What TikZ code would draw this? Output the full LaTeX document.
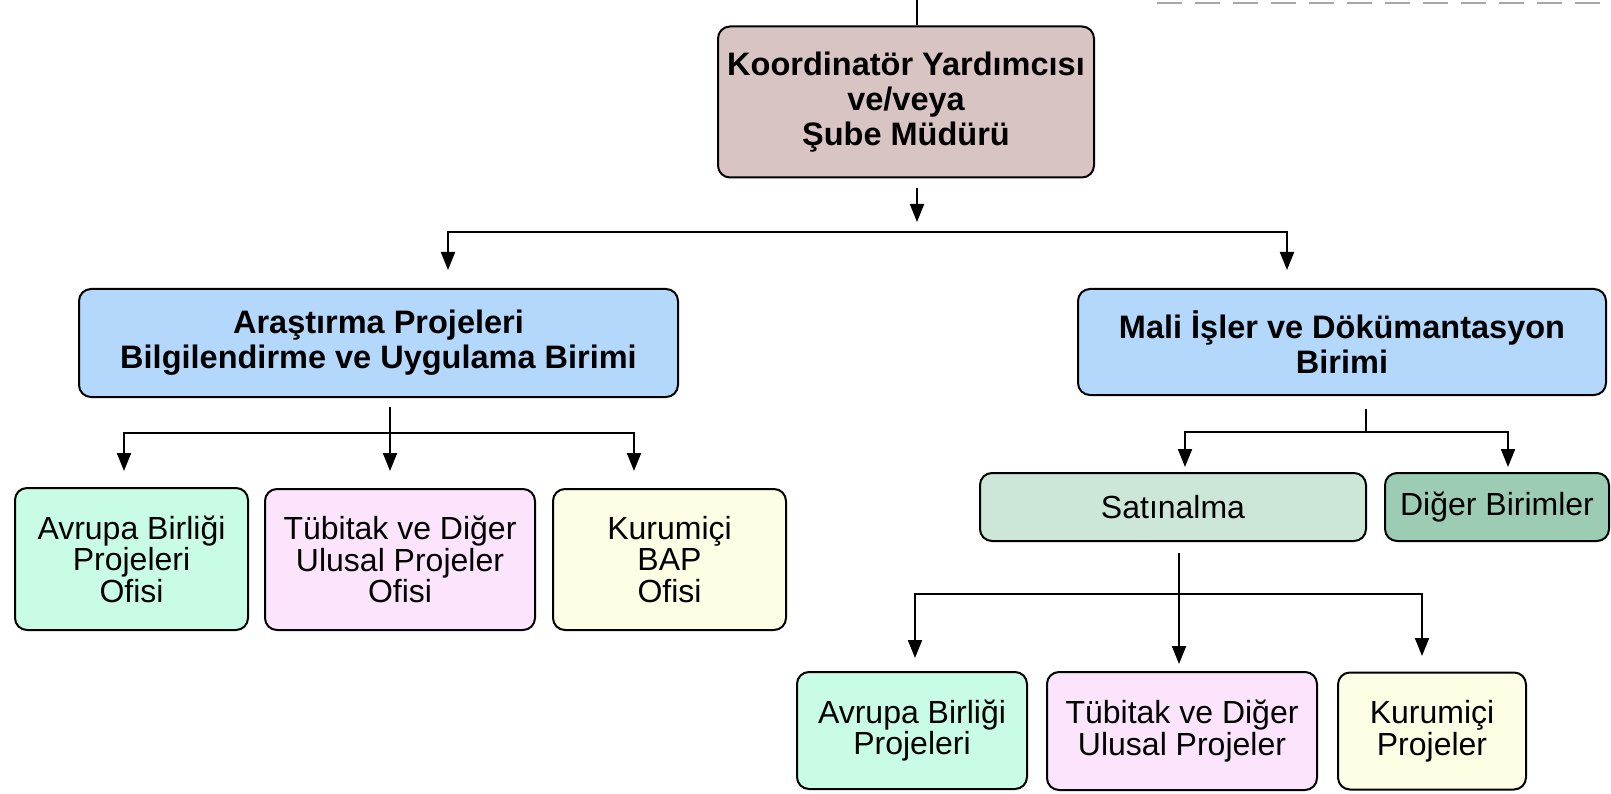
\documentclass[tikz,border=0pt]{standalone}
\usepackage{fontspec}
\setmainfont{Liberation Sans}
\usetikzlibrary{arrows.meta}
\definecolor{topc}{HTML}{D9C4C4}
\definecolor{bluec}{HTML}{B4D8FC}
\definecolor{greenc}{HTML}{C9FCE4}
\definecolor{pinkc}{HTML}{FCE4FC}
\definecolor{yellowc}{HTML}{FEFEE4}
\definecolor{satc}{HTML}{CCE6D8}
\definecolor{digc}{HTML}{9CCCB4}
\definecolor{dashc}{HTML}{A6A6A6}
\begin{document}
\begin{tikzpicture}[x=1pt,y=-1pt,
 box/.style={draw=black,line width=2pt,rounded corners=12pt,align=center,inner sep=0pt},
 boldbox/.style={box,font=\fontsize{32.5}{35}\selectfont\bfseries},
 regbox/.style={box,font=\fontsize{32}{31.5}\selectfont},
 link/.style={line width=2pt},
 tip/.tip={Triangle[width=14pt,length=18pt]},
 arr/.style={link,-tip},
 arr2/.style={link,tip-tip}]

\useasboundingbox (0,0) rectangle (1611,794);

% nodes
\node[boldbox,fill=topc,minimum width=376pt,minimum height=151pt] (top) at (906,102) {Koordinatör Yardımcısı\\ve/veya\\Şube Müdürü};
\node[boldbox,fill=bluec,minimum width=599pt,minimum height=108pt] (blueL) at (378.5,343) {Araştırma Projeleri\\Bilgilendirme ve Uygulama Birimi};
\node[boldbox,fill=bluec,minimum width=528pt,minimum height=106pt] (blueR) at (1342,342) {Mali İşler ve Dökümantasyon\\Birimi};

\node[regbox,fill=greenc,minimum width=233pt,minimum height=142pt] (L1) at (131.5,559) {Avrupa Birliği\\Projeleri\\Ofisi};
\node[regbox,fill=pinkc,minimum width=270pt,minimum height=141pt] (L2) at (400,559.5) {Tübitak ve Diğer\\Ulusal Projeler\\Ofisi};
\node[regbox,fill=yellowc,minimum width=233pt,minimum height=141pt] (L3) at (669.5,559.5) {Kurumiçi\\BAP\\Ofisi};

\node[regbox,fill=satc,minimum width=386pt,minimum height=68pt] (sat) at (1173,507) {Satınalma};
\node[regbox,fill=digc,minimum width=224pt,minimum height=68pt] (dig) at (1497,507) {Diğer Birimler};

\node[regbox,fill=greenc,minimum width=230pt,minimum height=117pt] (R1) at (912,730.5) {Avrupa Birliği\\Projeleri};
\node[regbox,fill=pinkc,minimum width=270pt,minimum height=118pt] (R2) at (1182,731) {Tübitak ve Diğer\\Ulusal Projeler};
\node[regbox,fill=yellowc,minimum width=188pt,minimum height=117pt] (R3) at (1432,731) {Kurumiçi\\Projeler};

% dashed line at top right
\coordinate (d1) at (1157,3.5);
\coordinate (d2) at (1611,3.5);
\draw[dashc,line width=2pt,dash pattern=on 25pt off 13pt] (d1) -- (d2);

% connectors
\coordinate (in) at (917,0);
\draw[link] (in) -- (in |- top.north);

\coordinate (t1) at (917,188);
\coordinate (t2) at (917,222);
\draw[arr] (t1) -- (t2);

\coordinate (hL) at (448,232);
\coordinate (hR) at (1287,232);
\coordinate (aL) at (448,270);
\coordinate (aR) at (1287,270);
\draw[arr2] (aL) -- (hL) -- (hR) -- (aR);

% left sub-tree
\coordinate (bl1) at (390,407);
\coordinate (bl2) at (390,471);
\draw[arr] (bl1) -- (bl2);
\coordinate (blh1) at (124,433);
\coordinate (blh2) at (634,433);
\coordinate (bla1) at (124,471);
\coordinate (bla2) at (634,471);
\draw[arr2] (bla1) -- (blh1) -- (blh2) -- (bla2);

% right sub-tree
\coordinate (br1) at (1366,409);
\coordinate (br2) at (1366,432);
\draw[link] (br1) -- (br2);
\coordinate (brh1) at (1185,432);
\coordinate (brh2) at (1508,432);
\coordinate (bra1) at (1185,467);
\coordinate (bra2) at (1508,467);
\draw[arr2] (bra1) -- (brh1) -- (brh2) -- (bra2);

% Satinalma sub-tree
\coordinate (s1) at (1179,553);
\coordinate (s2) at (1179,664);
\draw[arr] (s1) -- (s2);
\coordinate (sh1) at (915,594);
\coordinate (sh2) at (1422,594);
\coordinate (sa1) at (915,658);
\coordinate (sa2) at (1422,656);
\draw[arr2] (sa1) -- (sh1) -- (sh2) -- (sa2);
\end{tikzpicture}
\end{document}
